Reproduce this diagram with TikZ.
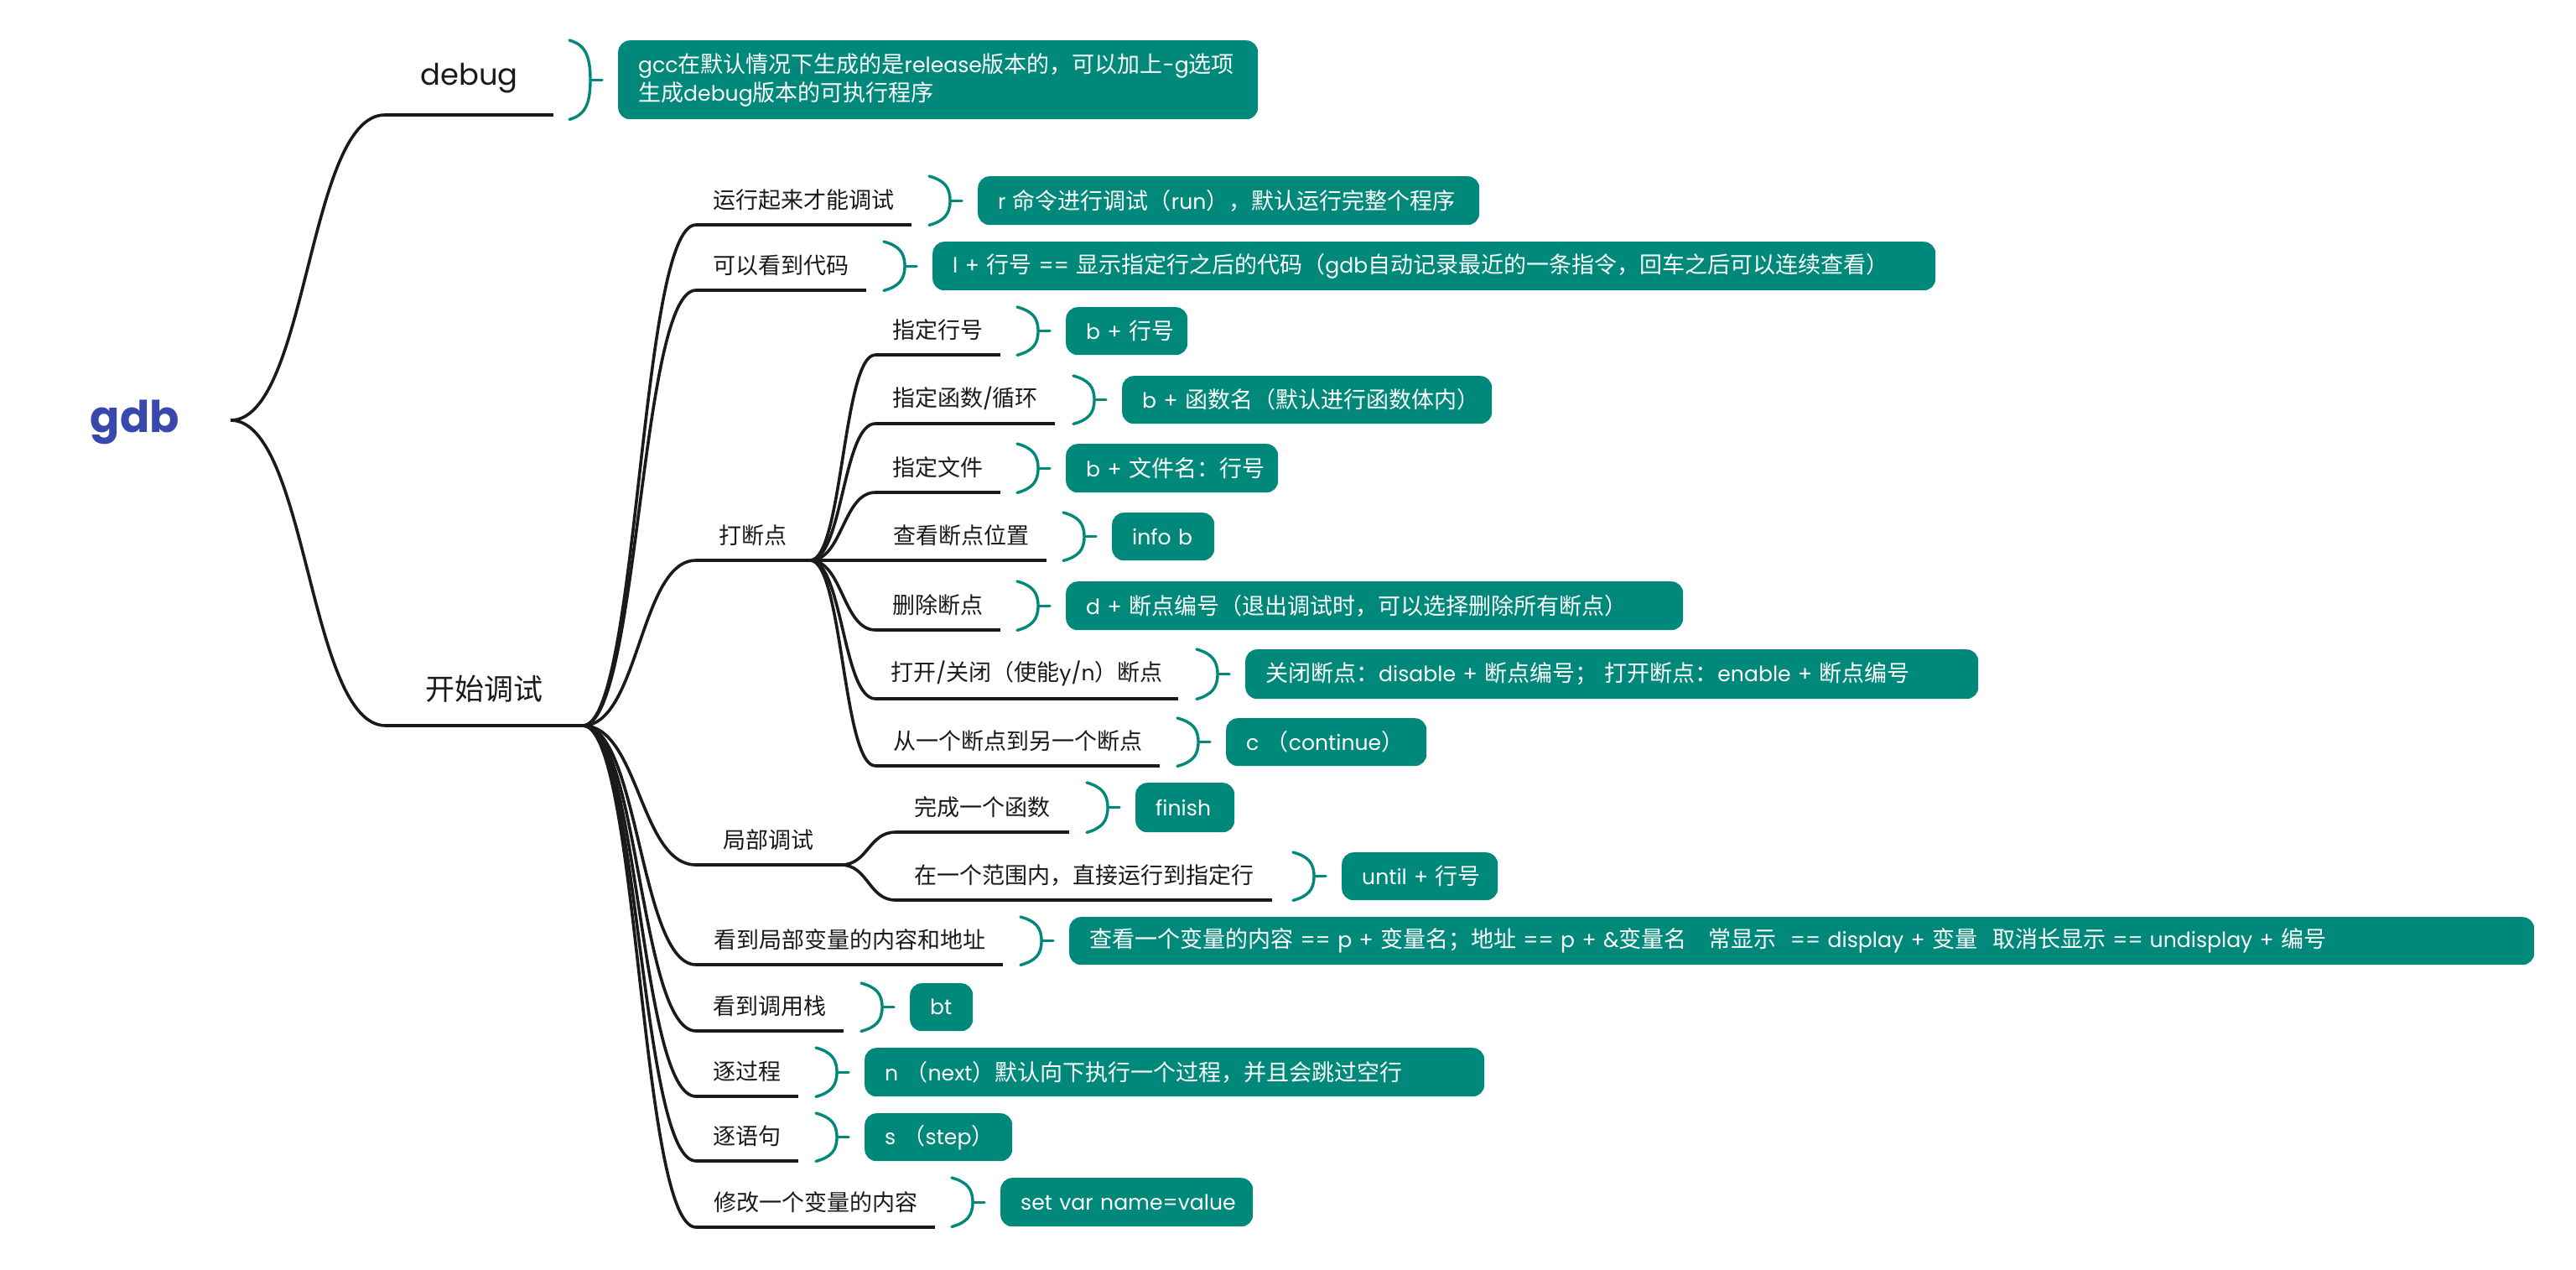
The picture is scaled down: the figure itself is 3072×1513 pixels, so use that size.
\documentclass[tikz,border=0pt]{standalone}
\usepackage{fontspec}
\setmainfont{Poppins}[Scale=0.93]
\newfontfamily\cjkf{Noto Sans CJK SC}
\newfontfamily\latf{Poppins}[Scale=0.93]
\XeTeXinterchartokenstate=1
\newXeTeXintercharclass\mycjk
\newcount\mycc
\newcommand\setcjkrange[2]{\mycc=#1\relax\loop\XeTeXcharclass\mycc=\mycjk\relax\ifnum\mycc<#2\relax\advance\mycc by 1\relax\repeat}
\setcjkrange{"2E80}{"2FDF}
\setcjkrange{"3000}{"30FF}
\setcjkrange{"3400}{"4DBF}
\setcjkrange{"4E00}{"9FFF}
\setcjkrange{"F900}{"FAFF}
\setcjkrange{"FF00}{"FFEF}
\XeTeXinterchartoks 0 \mycjk = {\cjkf}
\XeTeXinterchartoks 4095 \mycjk = {\cjkf}
\XeTeXinterchartoks \mycjk 0 = {\latf}
\XeTeXinterchartoks \mycjk 4095 = {\latf}
\definecolor{tealc}{RGB}{0,137,123}
\definecolor{gdbblue}{RGB}{57,73,171}
\definecolor{ink}{RGB}{26,26,26}
\tikzset{
  conn/.style={draw=ink, line width=3.6pt},
  uline/.style={draw=ink, line width=4pt},
  brkline/.style={draw=tealc, line width=3.4pt, line cap=round},
  lab/.style={text=ink, font=\fontsize{27}{32}\selectfont, inner sep=0pt},
  biglab/.style={text=ink, font=\fontsize{35}{42}\selectfont, inner sep=0pt},
  tealbox/.style={fill=tealc, rounded corners=14pt, text=white, font=\fontsize{27}{34}\selectfont, inner xsep=24pt, inner ysep=0pt, align=left, anchor=north west},
}
\newcommand\topic[7]{%
  \coordinate (#1L) at (#2,#4);
  \coordinate (#1R) at (#3,#4);
  \draw[uline] (#1L) -- (#1R);
  \pgfmathsetmacro\tcx{(#2+#3)/2}\pgfmathsetmacro\tcy{#4-#5}%
  \node[#6] (#1) at (\tcx,\tcy) {#7};}
\newcommand\tbox[6]{%
  \pgfmathsetmacro\tbw{#4-#2-48}\pgfmathsetmacro\tbh{#5-#3}%
  \node[tealbox, text width=\tbw pt, minimum height=\tbh pt] (#1) at (#2,#3) {\mbox{#6}};}
\newcommand\brk[2]{%
  \draw[brkline] ([xshift=-58pt]#1.north west) .. controls +(18pt,-5pt) and +(0pt,#2) .. ([xshift=-33pt]#1.west) .. controls +(0pt,-#2) and +(18pt,5pt) .. ([xshift=-58pt]#1.south west);
  \draw[brkline] ([xshift=-33pt]#1.west) -- ([xshift=-19pt]#1.west);}
\newcommand\conn[3]{\draw[conn] (#1) .. controls +(#3pt,0pt) and +(-#3pt,0pt) .. (#2);}
\begin{document}
\begin{tikzpicture}[x=1pt,y=-1pt]
\useasboundingbox[fill=white] (0,0) rectangle (3072,1513);
% root
\node[font=\bfseries\fontsize{56}{64}\selectfont, text=gdbblue, inner sep=0pt] (gdb) at (161,503) {gdb};
\coordinate (root) at (275,501);
% level 1
\topic{dbg}{459}{660}{137}{44}{biglab,font=\fontsize{38}{44}\selectfont}{debug}
\topic{st}{460}{695}{865}{44}{biglab}{开始调试}
% level 2
\topic{a1}{830}{1087}{268}{30}{lab}{运行起来才能调试}
\topic{a2}{830}{1033}{346}{30}{lab}{可以看到代码}
\topic{a3}{830}{966}{668}{30}{lab}{打断点}
\topic{a4}{830}{1003}{1031}{30}{lab}{局部调试}
\topic{a5}{830}{1196}{1150}{30}{lab}{看到局部变量的内容和地址}
\topic{a6}{830}{1006}{1229}{30}{lab}{看到调用栈}
\topic{a7}{830}{952}{1307}{30}{lab}{逐过程}
\topic{a8}{830}{952}{1384}{30}{lab}{逐语句}
\topic{a9}{830}{1115}{1463}{30}{lab}{修改一个变量的内容}
% level 3
\topic{b1}{1044}{1193}{423}{30}{lab}{指定行号}
\topic{b2}{1044}{1258}{505}{30}{lab}{指定函数/循环}
\topic{b3}{1044}{1193}{587}{30}{lab}{指定文件}
\topic{b4}{1044}{1248}{668}{30}{lab}{查看断点位置}
\topic{b5}{1044}{1193}{751}{30}{lab}{删除断点}
\topic{b6}{1044}{1405}{833}{30}{lab}{打开/关闭（使能y/n）断点}
\topic{b7}{1044}{1383}{913}{30}{lab}{从一个断点到另一个断点}
\topic{c1}{1068}{1275}{992}{30}{lab}{完成一个函数}
\topic{c2}{1068}{1517}{1073}{30}{lab}{在一个范围内，直接运行到指定行}
% connectors
\conn{root}{dbgL}{92}
\conn{root}{stL}{92}
\foreach \n in {1,...,9} {\conn{stR}{a\n L}{67}}
\foreach \n in {1,...,7} {\conn{a3R}{b\n L}{39}}
\foreach \n in {1,2} {\conn{a4R}{c\n L}{32}}
% boxes
\node[tealbox, text width=715pt, minimum height=94pt] (dbox) at (737,48) {\mbox{gcc在默认情况下生成的是release版本的，可以加上-g选项}\\\mbox{生成debug版本的可执行程序}};
\tbox{x1}{1166}{210}{1764}{268}{r 命令进行调试（run），默认运行完整个程序}
\tbox{x2}{1112}{288}{2308}{346}{l + 行号 == 显示指定行之后的代码（gdb自动记录最近的一条指令，回车之后可以连续查看）}
\tbox{y1}{1271}{366}{1416}{423}{b + 行号}
\tbox{y2}{1338}{448}{1779}{505}{b + 函数名（默认进行函数体内）}
\tbox{y3}{1271}{529}{1524}{587}{b + 文件名：行号}
\tbox{y4}{1326}{611}{1448}{668}{info b}
\tbox{y5}{1271}{693}{2007}{751}{d + 断点编号（退出调试时，可以选择删除所有断点）}
\tbox{y6}{1485}{774}{2359}{833}{关闭断点：disable + 断点编号； 打开断点：enable + 断点编号}
\tbox{y7}{1462}{856}{1701}{913}{c （continue）}
\tbox{z1}{1354}{933}{1472}{992}{finish}
\tbox{z2}{1600}{1016}{1786}{1073}{until + 行号}
\tbox{x5}{1275}{1093}{3022}{1150}{查看一个变量的内容 == p + 变量名；地址 == p + \&变量名\hspace{26pt}常显示\hspace{8pt} == display + 变量\hspace{18pt}取消长显示 ==\hspace{8pt}undisplay + 编号}
\tbox{x6}{1085}{1172}{1160}{1229}{bt}
\tbox{x7}{1031}{1249}{1770}{1307}{n （next）默认向下执行一个过程，并且会跳过空行}
\tbox{x8}{1031}{1327}{1207}{1384}{s （step）}
\tbox{x9}{1193}{1404}{1494}{1462}{set var name=value}
% brackets
\brk{dbox}{30pt}
\foreach \b in {x1,x2,y1,y2,y3,y4,y5,y6,y7,z1,z2,x5,x6,x7,x8,x9} {\brk{\b}{16pt}}
\end{tikzpicture}
\end{document}
